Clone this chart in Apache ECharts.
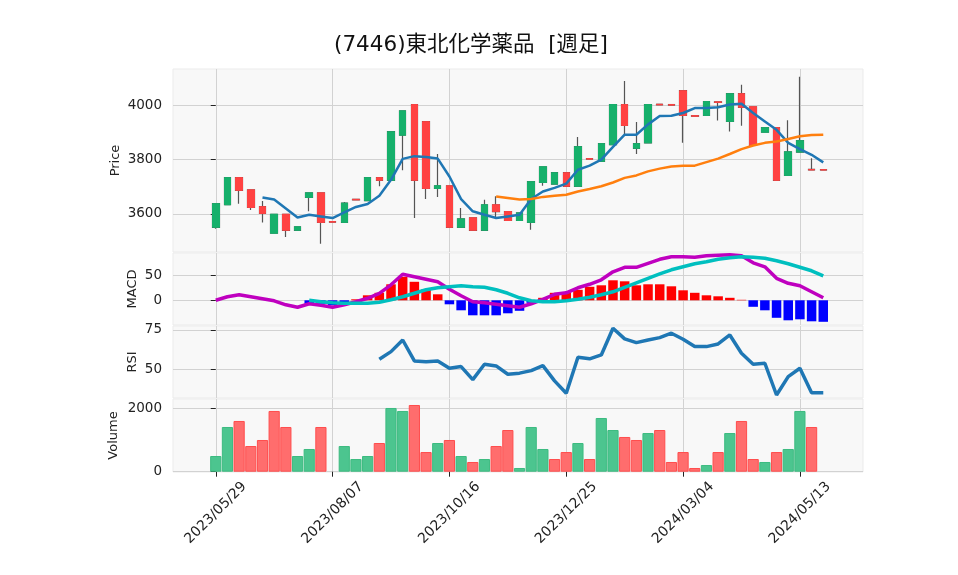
<!DOCTYPE html>
<html><head><meta charset="utf-8">
<script src="https://cdn.jsdelivr.net/npm/echarts@6/dist/echarts.min.js"></script>
<style>html,body{margin:0;padding:0;background:#fff}#c{width:958px;height:575px}</style>
</head><body><div id="c"></div>
<script>
const chartTitle = '(7446)東北化学薬品  [週足]';
const tickLabels = ['2023/05/29','2023/08/07','2023/10/16','2023/12/25','2024/03/04','2024/05/13'];
const tickWeeks = [0,10,20,30,40,50];

const opens = [3551,3634,3734,3689,3627,3529,3599,3540,3661,3678,3572,3569,3654,3649,3734,3724,3890,4003,3940,3694,3704,3551,3586,3540,3634,3609,3576,3569,3716,3710,3752,3702,3804,3794,3855,4003,3842,3862,4004,4003,4054,3962,3963,4013,3941,4043,3995,3901,3918,3742,3828,3764,3763];
const closes = [3638,3734,3687,3624,3602,3599,3540,3553,3678,3569,3570,3640,3652,3734,3724,3903,3980,3724,3694,3704,3551,3582,3540,3634,3609,3576,3604,3719,3774,3752,3702,3848,3802,3859,4003,3926,3859,4003,4002,4001,3963,3960,4014,4011,4043,3993,3853,3918,3724,3829,3870,3762,3762];
const lows = [3546,3632,3638,3615,3569,3529,3515,3540,3610,3490,3570,3569,3652,3649,3702,3724,3761,3585,3655,3663,3551,3551,3540,3540,3585,3576,3576,3542,3704,3710,3702,3702,3802,3794,3855,3891,3821,3862,4002,4001,3862,3960,3963,3944,3904,3925,3853,3901,3724,3742,3828,3762,3762];
const highs = [3640,3734,3734,3689,3648,3599,3599,3553,3678,3678,3572,3644,3654,3734,3734,3903,3980,4003,3940,3821,3704,3622,3586,3652,3665,3609,3604,3719,3774,3752,3752,3884,3804,3859,4003,4090,3939,4003,4004,4003,4054,3962,4014,4013,4043,4076,3995,3918,3918,3945,4105,3805,3763];
const volumes = [495,1410,1600,810,1000,1915,1410,495,716,1410,0,810,400,495,905,2010,1915,2104,620,905,1000,495,306,400,810,1315,117,1410,716,400,620,905,400,1694,1315,1095,1000,1220,1315,306,620,117,210,620,1220,1600,400,306,620,716,1915,1410,0];
const ma5 = [null,null,null,null,3661,3653,3620,3587,3597,3591,3585,3606,3626,3637,3667,3726,3803,3813,3810,3804,3738,3655,3610,3597,3585,3591,3597,3655,3683,3696,3712,3763,3778,3800,3847,3892,3892,3930,3961,3962,3972,3990,3990,3993,4003,4006,3972,3941,3910,3862,3839,3818,3790];
const ma25 = [null,null,null,null,null,null,null,null,null,null,null,null,null,null,null,null,null,null,null,null,null,null,null,null,3664,3659,3653,3655,3663,3667,3671,3683,3692,3702,3716,3733,3742,3757,3767,3775,3778,3778,3791,3804,3821,3839,3852,3862,3867,3876,3886,3891,3892];
const macdLine = [0,7,11,7,3,-1,-9,-14,-7,-10,-14,-9,-3,4,14,31,52,47,42,37,22,9,-3,-5,-8,-11,-14,-7,2,12,15,25,32,41,57,66,66,74,82,87,87,86,89,90,91,89,75,67,44,34,29,17,5];
const signalLine = [null,null,null,null,null,null,null,null,0,-3,-5,-6,-6,-6,-4,1,7,14,21,25,27,29,27,26,21,14,5,-1,-3,-3,-1,2,6,11,17,26,35,44,53,61,67,73,77,82,85,87,86,84,79,73,66,59,49];
const macdHist = [null,null,null,null,null,null,null,null,-7,-7,-10,-7,2,10,15,32,47,37,22,12,-8,-20,-30,-30,-30,-26,-21,-5,5,15,15,21,27,30,40,38,30,32,32,28,20,15,10,8,5,1,-13,-20,-35,-40,-38,-42,-43];
const rsiLine = [null,null,null,null,null,null,null,null,null,null,null,null,null,null,56.4,61.2,68.6,55.3,54.8,55.3,50.6,51.7,43.4,53.2,52.1,46.8,47.5,49.1,52.3,42.6,34.7,57.6,56.6,59.1,76.1,69.3,66.9,68.6,70.1,72.9,69.1,64.4,64.4,66.1,71.8,60.2,53.2,53.8,33.6,45.3,50.6,35.1,35.1];

const UP = '#16b06b', DOWN = '#ff4242';
const VUP = '#4cc58f', VDOWN = '#ff6d6d', VUPE = '#3cbb80', VDOWNE = '#ff4d4d';
const FONT = 'DejaVu Sans';
const XMIN = -3.66, XMAX = 55.4;

const chart = echarts.init(document.getElementById('c'), null, {renderer: 'canvas'});

function toPairs(arr) {
  const out = [];
  arr.forEach((v, i) => { if (v !== null) out.push([i, v]); });
  return out;
}

const panels = [
  {top: 69, height: 183, min: 3460, max: 4134, ticks: [3600,3800,4000], name: 'Price', gap: 51},
  {top: 253, height: 72, min: -49.4, max: 94.6, ticks: [0,50], name: 'MACD', gap: 34},
  {top: 326, height: 72, min: 31.7, max: 77.5, ticks: [50,75], name: 'RSI', gap: 34},
  {top: 399, height: 73, min: -9.5, max: 2293, ticks: [0,2000], name: 'Volume', gap: 53}
];

const grids = panels.map(p => ({
  left: 173, right: 95, top: p.top, height: p.height,
  show: true, backgroundColor: '#f8f8f8', borderColor: '#ebebeb', borderWidth: 1
}));

const xAxes = panels.map((p, k) => ({
  type: 'value', gridIndex: k, min: XMIN, max: XMAX,
  axisLine: {show: false},
  axisTick: {show: k === 3, customValues: tickWeeks, length: 5, lineStyle: {color: '#222'}},
  axisLabel: {show: k === 3, customValues: tickWeeks, rotate: 45, fontFamily: FONT, fontSize: 14, color: '#222',
    margin: 41, align: 'center', verticalAlign: 'middle',
    formatter: v => tickLabels[tickWeeks.indexOf(Math.round(v))] || ''},
  splitLine: {show: true, lineStyle: {color: '#d2d2d2', width: 1}}
}));

const yAxes = panels.map((p, k) => ({
  type: 'value', gridIndex: k, min: p.min, max: p.max,
  name: p.name, nameLocation: 'middle', nameGap: p.gap, nameMoveOverlap: false,
  nameTextStyle: {fontFamily: FONT, fontSize: 13, color: '#222'},
  axisLine: {show: false},
  axisTick: {show: true, customValues: p.ticks, length: 5, lineStyle: {color: '#222'}},
  axisLabel: {customValues: p.ticks, fontFamily: FONT, fontSize: 13.5, color: '#222', margin: 11,
    formatter: v => String(v)},
  splitLine: {show: true, lineStyle: {color: '#d2d2d2', width: 1}}
}));

const wickData = opens.map((o, i) => [i, o, closes[i], lows[i], highs[i]]);
const bodyData = opens.map((o, i) => [i, o, closes[i], Math.min(o, closes[i]), Math.max(o, closes[i])]);

const volData = volumes.map((v, i) => {
  const up = i === 0 || closes[i] >= closes[i - 1];
  return {value: [i, v], itemStyle: {color: up ? VUP : VDOWN, borderColor: up ? VUPE : VDOWNE, borderWidth: 1}};
}).filter(d => d.value[1] > 0);

const histData = [];
macdHist.forEach((h, i) => {
  if (h !== null) histData.push({value: [i, h], itemStyle: {color: h >= 0 ? '#ff0000' : '#0000ff'}});
});

const lineBase = (data, color, width, xi, yi, z) => ({
  type: 'line', data: toPairs(data), xAxisIndex: xi, yAxisIndex: yi,
  showSymbol: false, symbol: 'none', smooth: false, z: z || 3,
  lineStyle: {color: color, width: width}, itemStyle: {color: color}
});

const option = {
  animation: false,
  backgroundColor: '#ffffff',
  title: {text: chartTitle, left: 466, top: 30, textAlign: 'center',
    textStyle: {fontFamily: "'DejaVu Sans', 'Noto Sans CJK JP'", fontSize: 21.5, fontWeight: 'normal', color: '#111'}},
  grid: grids, xAxis: xAxes, yAxis: yAxes,
  series: [
    {type: 'candlestick', xAxisIndex: 0, yAxisIndex: 0, data: wickData, encode: {x: 0, y: [1,2,3,4]},
     barWidth: 7, z: 2,
     itemStyle: {color: 'rgba(0,0,0,0)', color0: 'rgba(0,0,0,0)', borderColor: '#555', borderColor0: '#555', borderWidth: 1.2}},
    {type: 'candlestick', xAxisIndex: 0, yAxisIndex: 0, data: bodyData, encode: {x: 0, y: [1,2,3,4]},
     barWidth: 7, z: 3,
     itemStyle: {color: UP, color0: DOWN, borderColor: UP, borderColor0: DOWN, borderWidth: 1}},
    lineBase(ma5, '#1f77b4', 2.5, 0, 0, 4),
    lineBase(ma25, '#ff7f0e', 2.5, 0, 0, 4),
    {type: 'bar', xAxisIndex: 1, yAxisIndex: 1, data: histData, barWidth: 9.5, z: 2},
    lineBase(macdLine, '#bf00bf', 3.5, 1, 1, 3),
    lineBase(signalLine, '#00bfbf', 3.5, 1, 1, 4),
    lineBase(rsiLine, '#1f77b4', 3.5, 2, 2, 3),
    {type: 'bar', xAxisIndex: 3, yAxisIndex: 3, data: volData, barWidth: 11.2, z: 2}
  ]
};
chart.setOption(option);
</script></body></html>
